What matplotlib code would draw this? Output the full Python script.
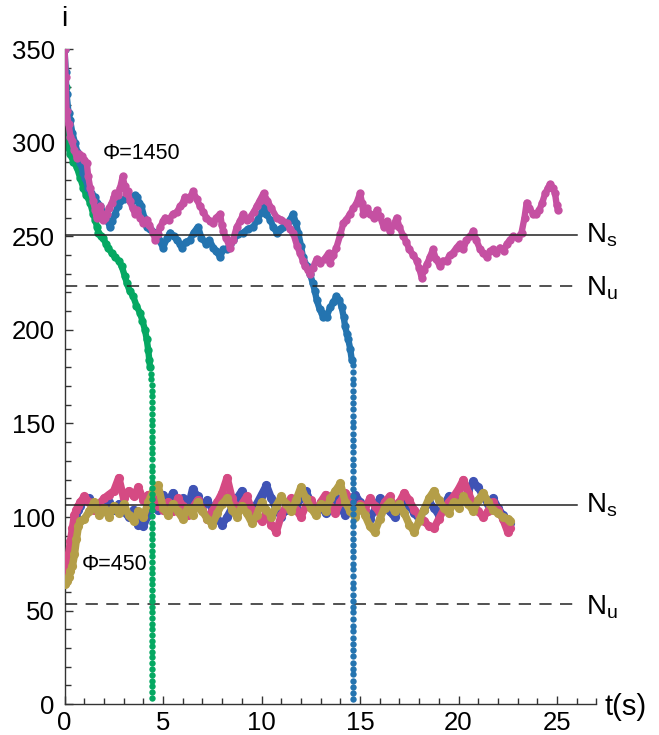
import matplotlib
matplotlib.use("Agg")
import matplotlib.pyplot as plt
from matplotlib.ticker import MultipleLocator

plt.rcParams['font.family'] = ['Liberation Sans', 'DejaVu Sans']

# ---------------- Phi = 1450 trajectories ----------------
t_mag = [0.0, 0.05, 0.1, 0.2, 0.3, 0.37, 0.5, 0.62, 0.75, 0.87, 1.0, 1.13, 1.2, 1.3, 1.45, 1.55,
         1.63, 1.72, 1.8, 1.9, 1.96, 2.05, 2.14, 2.25, 2.4, 2.5, 2.56, 2.7, 2.82, 2.95, 3.05, 3.12,
         3.2, 3.32, 3.45, 3.58, 3.7, 3.83, 4.0, 4.17, 4.3, 4.5, 4.6, 4.72, 4.85, 5.0, 5.1, 5.3,
         5.5, 5.7, 5.86, 6.0, 6.1, 6.3, 6.53, 6.7, 6.88, 7.05, 7.2, 7.4, 7.55, 7.7, 7.9, 7.98,
         8.05, 8.2, 8.4, 8.55, 8.74, 8.9, 9.07, 9.25, 9.4, 9.6, 9.75, 9.9, 10.1, 10.3, 10.5, 10.77,
         11.0, 11.28, 11.45, 11.6, 11.8, 11.95, 12.1, 12.2, 12.35, 12.46, 12.6, 12.8, 12.97, 13.2,
         13.4, 13.47, 13.65, 13.8, 14.0, 14.15, 14.3, 14.5, 14.65, 14.83, 15.0, 15.1, 15.17, 15.35,
         15.5, 15.7, 15.85, 16.0, 16.2, 16.35, 16.5, 16.7, 16.86, 17.0, 17.2, 17.35, 17.5, 17.7,
         17.88, 18.0, 18.13, 18.25, 18.39, 18.55, 18.7, 18.85, 19.06, 19.2, 19.4, 19.55, 19.7, 19.9,
         20.07, 20.25, 20.4, 20.6, 20.75, 20.9, 21.1, 21.25, 21.43, 21.6, 21.75, 21.9, 22.1, 22.3,
         22.45, 22.6, 22.77, 23.0, 23.2, 23.35, 23.46, 23.6, 23.8, 23.95, 24.1, 24.25, 24.4, 24.55,
         24.65, 24.78, 24.9, 24.98, 25.05]
i_mag = [350, 335, 317, 310, 303, 301, 296, 292, 294, 293, 291, 289, 282, 276, 269, 264,
         260, 263, 266, 261, 259, 260, 262, 265, 268, 271, 273, 272, 276, 282, 277, 273,
         274, 269, 265, 262, 264, 260, 257, 259, 256, 252, 248, 251, 255, 258, 260, 259,
         262, 263, 266, 268, 271, 270, 274, 270, 266, 263, 260, 258, 257, 260, 262, 256,
         253, 249, 244, 248, 255, 258, 262, 259, 260, 263, 266, 269, 273, 269, 265, 260,
         259, 257, 254, 252, 245, 241, 237, 234, 232, 230, 233, 238, 236, 238,
         241, 236, 240, 244, 251, 257, 259, 262, 265, 268, 273, 268, 262, 265,
         262, 260, 264, 261, 255, 258, 253, 256, 260, 255, 250, 247, 243, 240,
         237, 233, 228, 232, 235, 239, 243, 238, 234, 237, 237, 240, 241, 244,
         246, 243, 248, 250, 253, 248, 243, 241, 239, 242, 243, 241, 244, 242,
         246, 248, 250, 249, 252, 260, 268, 265, 262, 262, 264, 268, 273, 276,
         278, 276, 273, 267, 264]

t_blue = [0.0, 0.05, 0.1, 0.2, 0.28, 0.4, 0.53, 0.65, 0.8, 0.95, 1.05, 1.2, 1.35, 1.55, 1.65,
          1.8, 1.95, 2.06, 2.2, 2.3, 2.42, 2.56, 2.7, 2.82, 3.0, 3.22, 3.4, 3.55, 3.66, 3.8, 3.9,
          4.05, 4.17, 4.35, 4.6, 4.8, 5.0, 5.2, 5.36, 5.55, 5.7, 5.85, 5.95, 6.15, 6.37, 6.55,
          6.7, 6.78, 6.95, 7.2, 7.35, 7.55, 7.7, 7.9, 8.05, 8.23, 8.4, 8.57, 8.8, 9.07, 9.3, 9.57,
          9.8, 10.0, 10.1, 10.25, 10.43, 10.6, 10.77, 10.95, 11.1, 11.3, 11.45, 11.6, 11.75, 11.86,
          12.0, 12.1, 12.3, 12.46, 12.6, 12.7, 12.8, 12.95, 13.06, 13.13, 13.3, 13.48, 13.65, 13.8,
          13.95, 14.07, 14.17, 14.24, 14.33, 14.4, 14.5, 14.58]
i_blue = [350, 338, 326, 316, 312, 305, 300, 295, 289, 284, 281, 276, 273, 271, 268,
          266, 263, 262, 258, 255, 258, 262, 266, 269, 270, 271, 269, 272, 271, 268, 266,
          260, 255, 254, 252, 248, 244, 249, 252, 250, 248, 246, 244, 247, 248, 252,
          254, 255, 249, 246, 248, 244, 242, 239, 243, 243, 246, 248, 251, 252, 254, 255,
          259, 263, 266, 262, 259, 255, 252, 254, 255, 257, 259, 262, 257, 252,
          245, 239, 234, 230, 225, 221, 216, 211, 209, 207, 207, 212, 215, 218,
          216, 212, 207, 202, 198, 195, 190, 184]
# final collapse of the blue run
t_blue_drop = [14.62, 14.63, 14.64, 14.65, 14.65, 14.66, 14.66, 14.66, 14.66, 14.66, 14.66,
               14.66, 14.66, 14.66, 14.66, 14.66, 14.66, 14.66, 14.66, 14.66, 14.66, 14.66,
               14.66, 14.66, 14.66, 14.66, 14.66, 14.66, 14.66, 14.66, 14.66, 14.66, 14.66,
               14.66, 14.66, 14.66, 14.66, 14.66, 14.66, 14.66, 14.66, 14.66, 14.66, 14.66,
               14.66, 14.66, 14.66, 14.66, 14.66, 14.66, 14.66, 14.66, 14.66, 14.66, 14.66]
i_blue_drop = [181, 177.5, 174, 171, 167.5, 164, 161, 157.5, 154, 151, 148, 144.5, 141, 138,
               134.5, 131, 128, 124.5, 121, 118, 115, 111.5, 108, 105, 101.5, 98, 95, 91.5,
               88, 85, 82, 78.5, 75, 72, 68.5, 65, 62, 58.5, 55, 52, 49, 45.5, 42, 39, 35.5,
               32, 29, 25.5, 22, 19, 16, 12.5, 9, 6, 2.5]

t_green = [0.0, 0.05, 0.1, 0.2, 0.28, 0.45, 0.62, 0.8, 0.95, 1.1, 1.3, 1.45, 1.55, 1.65, 1.72,
           1.85, 1.96, 2.1, 2.2, 2.4, 2.56, 2.75, 2.9, 3.05, 3.16, 3.3, 3.48, 3.65, 3.83, 3.95,
           4.08, 4.17, 4.25, 4.3, 4.34]
i_green = [350, 330, 308, 298, 294, 290, 287, 281, 276, 272, 268, 262, 259, 255, 252,
           250, 249, 246, 244, 241, 239, 237, 234, 229, 225, 221, 218, 213, 209, 205,
           200, 195, 189, 184, 180]
# final collapse of the green run
t_green_drop = [4.38, 4.41, 4.43, 4.44, 4.45, 4.45, 4.45, 4.45, 4.45, 4.45, 4.45, 4.45, 4.45,
                4.45, 4.45, 4.45, 4.45, 4.45, 4.45, 4.45, 4.45, 4.45, 4.45, 4.45, 4.45, 4.45,
                4.45, 4.45, 4.45, 4.45, 4.45, 4.45, 4.45, 4.45, 4.45, 4.45, 4.45, 4.45, 4.45,
                4.45, 4.45, 4.45, 4.45, 4.45, 4.45, 4.45, 4.45, 4.45, 4.45, 4.45, 4.45, 4.45,
                4.45, 4.45, 4.45, 4.45, 4.45, 4.45]
i_green_drop = [176.5, 173.5, 170.5, 167.5, 164.5, 161.5, 158.5, 155, 152, 149, 146, 143, 140,
                137, 134, 131, 127.5, 124.5, 121.5, 118.5, 115.5, 112.5, 109.5, 106.5, 103.5,
                100.5, 97, 94, 91, 88, 85, 82, 79, 76, 73, 70, 67, 64, 61, 58, 55, 52, 49,
                46, 43, 40, 37, 34, 31, 28, 25, 22, 19, 15.5, 12.5, 9.5, 6.5, 3.5]

# ---------------- Phi = 450 trajectories ----------------
t_low = [0.0, 0.1, 0.2, 0.3, 0.4, 0.5, 0.6, 0.7, 0.8,
         1.0, 1.25, 1.5, 1.75, 2.0, 2.25, 2.5, 2.75, 3.0, 3.25, 3.5, 3.75, 4.0, 4.25, 4.5, 4.75,
         5.0, 5.25, 5.5, 5.75, 6.0, 6.25, 6.5, 6.75, 7.0, 7.25, 7.5, 7.75, 8.0, 8.25, 8.5, 8.75,
         9.0, 9.25, 9.5, 9.75, 10.0, 10.25, 10.5, 10.75, 11.0, 11.25, 11.5, 11.75, 12.0, 12.25,
         12.5, 12.75, 13.0, 13.25, 13.5, 13.75, 14.0, 14.25, 14.5, 14.75, 15.0, 15.25, 15.5,
         15.75, 16.0, 16.25, 16.5, 16.75, 17.0, 17.25, 17.5, 17.75, 18.0, 18.25, 18.5, 18.75,
         19.0, 19.25, 19.5, 19.75, 20.0, 20.25, 20.5, 20.75, 21.0, 21.25, 21.5, 21.75, 22.0,
         22.25, 22.5, 22.6]
i_indigo = [65, 68, 74, 80, 88, 95, 100, 104, 106,
            109, 110, 106, 103, 106, 108, 104, 107, 103, 100, 104, 96, 95, 101, 106, 104,
            112, 108, 113, 106, 110, 104, 115, 111, 106, 109, 104, 99, 96, 100, 105, 110,
            114, 108, 103, 107, 112, 117, 110, 104, 100, 104, 109, 105, 110, 114,
            108, 103, 106, 102, 107, 111, 105, 101, 106, 112, 108, 103, 99,
            104, 110, 106, 103, 100, 105, 110, 106, 102, 99, 104, 108, 105,
            101, 106, 111, 107, 112, 109, 114, 119, 116, 111, 107, 110, 105,
            101, 98, 97]
i_pink = [65, 72, 80, 87, 94, 101, 104, 106, 108,
          111, 108, 104, 107, 110, 112, 114, 121, 110, 114, 111, 116, 109, 112, 110, 106,
          104, 108, 103, 110, 106, 101, 105, 109, 104, 99, 103, 108, 113, 121, 110, 104,
          107, 111, 104, 100, 98, 102, 96, 92, 101, 106, 110, 104, 100, 106,
          109, 103, 108, 112, 106, 102, 108, 113, 110, 104, 107, 104, 110,
          106, 102, 108, 111, 105, 108, 113, 109, 104, 101, 98, 95, 94,
          99, 104, 108, 111, 115, 120, 113, 107, 103, 100, 103, 108, 104,
          99, 92, 94]
i_olive = [64, 66, 68, 71, 74, 80, 88, 95, 98,
           99, 103, 108, 101, 105, 100, 106, 102, 107, 101, 98, 103, 100, 108, 114, 117,
           105, 101, 107, 103, 99, 105, 101, 108, 103, 99, 96, 102, 107, 110, 104, 100,
           106, 102, 97, 101, 108, 104, 100, 106, 111, 107, 103, 109, 116, 110,
           105, 101, 107, 103, 110, 114, 118, 108, 103, 100, 106, 101, 95,
           92, 99, 105, 108, 103, 107, 102, 96, 92, 98, 104, 110, 114,
           109, 105, 102, 108, 105, 111, 107, 103, 109, 113, 108, 104, 102,
           100, 99, 98]

# steady states
Ns_high, Nu_high = 250.5, 223.5
Ns_low, Nu_low = 106.5, 53.5

C_BLUE = '#2474b0'
C_GREEN = '#05a862'
C_MAG = '#c550a2'
C_INDIGO = '#3f53b5'
C_PINK = '#d54a83'
C_OLIVE = '#b49e48'

fig = plt.figure(figsize=(6.59, 7.35), dpi=100)
ax = fig.add_axes([0.098, 0.042, 0.807, 0.891])

trace = dict(marker='o', lw=4.6, ms=6.0, mew=0, solid_joinstyle='round',
             solid_capstyle='round')
ax.plot(t_green, i_green, color=C_GREEN, zorder=2, **trace)
ax.plot(t_blue, i_blue, color=C_BLUE, zorder=3, **trace)
ax.plot(t_mag, i_mag, color=C_MAG, zorder=4, **trace)

low = dict(marker='o', lw=5.4, ms=6.6, mew=0, solid_joinstyle='round',
           solid_capstyle='round')
ax.plot(t_low, i_indigo, color=C_INDIGO, zorder=2, **low)
ax.plot(t_low, i_pink, color=C_PINK, zorder=3, **low)
ax.plot(t_low, i_olive, color=C_OLIVE, zorder=4, **low)

# steady-state reference lines
ax.plot([0, 26.0], [Ns_high, Ns_high], color='#222222', lw=1.1, zorder=6)
ax.plot([0, 26.0], [Nu_high, Nu_high], color='#222222', lw=1.1, ls=(0, (8, 5.5)), zorder=6)
ax.plot([0, 26.0], [Ns_low, Ns_low], color='#222222', lw=1.1, zorder=6)
ax.plot([0, 26.0], [Nu_low, Nu_low], color='#222222', lw=1.1, ls=(0, (8, 5.5)), zorder=6)

drop = dict(marker='o', ls='none', ms=4.6, mew=0, zorder=7)
ax.plot(t_green_drop, i_green_drop, color=C_GREEN, **drop)
ax.plot(t_blue_drop, i_blue_drop, color=C_BLUE, **drop)

lab = dict(fontsize=20, va='center', ha='left', clip_on=False)
ax.text(26.45, Ns_high, r'$\mathregular{N_s}$', **lab)
ax.text(26.45, Nu_high - 1.5, r'$\mathregular{N_u}$', **lab)
ax.text(26.45, Ns_low, r'$\mathregular{N_s}$', **lab)
ax.text(26.45, Nu_low - 1.5, r'$\mathregular{N_u}$', **lab)

ax.text(1.95, 294.5, 'Φ=1450', fontsize=15.5, va='center', ha='left')
ax.text(0.88, 74.5, 'Φ=450', fontsize=15.5, va='center', ha='left')

ax.text(0.0, 366, 'i', fontsize=20, ha='center', va='center', clip_on=False)
ax.text(27.4, -1.5, 't(s)', fontsize=21, ha='left', va='center', clip_on=False)

ax.set_xlim(0, 27)
ax.set_ylim(0, 350)
ax.xaxis.set_major_locator(MultipleLocator(5))
ax.xaxis.set_minor_locator(MultipleLocator(1))
ax.yaxis.set_major_locator(MultipleLocator(50))
ax.yaxis.set_minor_locator(MultipleLocator(10))
ax.tick_params(which='both', direction='in', color='#333333', width=1.0,
               labelsize=18.5)
ax.tick_params(which='major', length=6.0)
ax.tick_params(which='minor', length=4.5)
ax.tick_params(axis='y', pad=7)
ax.tick_params(axis='x', pad=5)
for side in ('top', 'right'):
    ax.spines[side].set_visible(False)
for side in ('left', 'bottom'):
    ax.spines[side].set_color('#333333')
    ax.spines[side].set_linewidth(1.0)

fig.savefig('out.png', dpi=100)
